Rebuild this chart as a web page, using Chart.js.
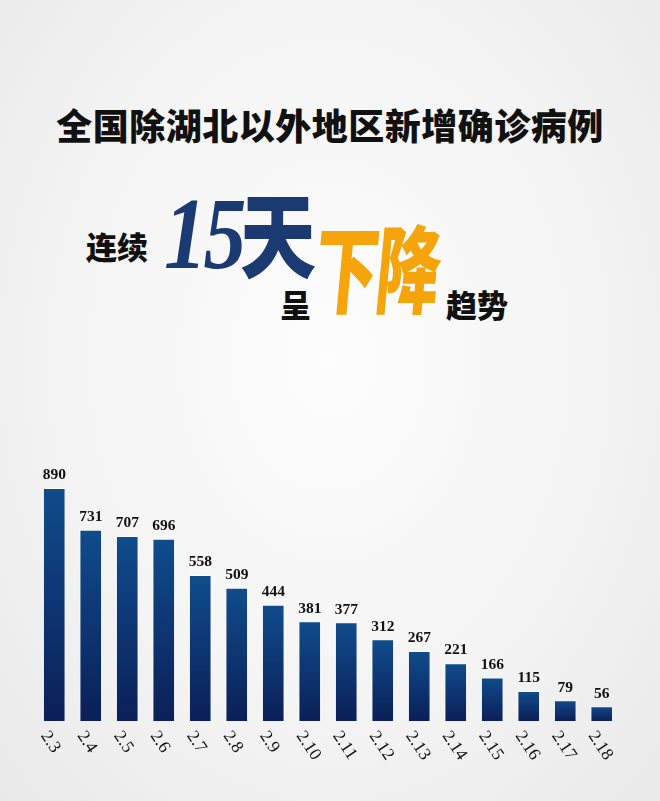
<!DOCTYPE html>
<html>
<head>
<meta charset="utf-8">
<script src="https://cdn.jsdelivr.net/npm/chart.js@4/dist/chart.umd.min.js"></script>
<style>
  html, body { margin: 0; padding: 0; }
  body {
    width: 660px; height: 801px; position: relative; overflow: hidden;
    background: radial-gradient(ellipse at 50% 45%, #fdfdfd 0%, #f4f4f4 55%, #e9e9e9 100%);
    font-family: "Noto Sans CJK SC", sans-serif;
  }
  .t { position: absolute; white-space: nowrap; line-height: 1; }
  #title { left: 0; width: 660px; text-align: center; top: 106px; font-size: 36px; font-weight: 900; color: #111; letter-spacing: 0.5px; }
  #lianxu { left: 86px; top: 230px; font-size: 31px; font-weight: 900; color: #111; }
  #num { left: 164px; top: 183px; font-family: "Liberation Serif", serif; font-style: italic; font-weight: bold; font-size: 102px; color: #1b3a72; letter-spacing: -4px; transform: scaleX(0.84); transform-origin: 0 0; }
  #tian { left: 240px; top: 184px; font-size: 76px; font-weight: 900; color: #1b3a72; transform: scaleY(1.22); transform-origin: 0 0; }
  #cheng { left: 280px; top: 288px; font-size: 31px; font-weight: 900; color: #111; }
  #xiajiang { left: 320px; top: 216px; font-size: 64px; font-weight: 900; color: #f5a40c; transform: scaleY(1.5) skewX(-8deg); transform-origin: 0 0; letter-spacing: -2px; }
  #qushi { left: 446px; top: 288px; font-size: 31px; font-weight: 900; color: #111; }
  #wrap { position: absolute; left: 0; top: 440px; width: 660px; height: 361px; }
</style>
</head>
<body>
<div class="t" id="title">全国除湖北以外地区新增确诊病例</div>
<div class="t" id="lianxu">连续</div>
<div class="t" id="num">15</div>
<div class="t" id="tian">天</div>
<div class="t" id="cheng">呈</div>
<div class="t" id="xiajiang">下降</div>
<div class="t" id="qushi">趋势</div>
<div id="wrap"><canvas id="c"></canvas></div>
<script>
const dates = ['2.3', '2.4', '2.5', '2.6', '2.7', '2.8', '2.9', '2.10', '2.11', '2.12', '2.13', '2.14', '2.15', '2.16', '2.17', '2.18'];
const newCases = [890, 731, 707, 696, 558, 509, 444, 381, 377, 312, 267, 221, 166, 115, 79, 56];

const labelPlugin = {
  id: 'labels',
  afterDatasetsDraw(chart) {
    const ctx = chart.ctx;
    const meta = chart.getDatasetMeta(0);
    const xs = chart.scales.x;
    const bottom = chart.chartArea.bottom;
    ctx.save();
    ctx.fillStyle = '#111';
    ctx.font = 'bold 15.5px "Liberation Serif", serif';
    ctx.textAlign = 'center';
    ctx.textBaseline = 'bottom';
    meta.data.forEach((bar, i) => {
      ctx.fillText(String(newCases[i]), bar.x, bar.y - 5);
    });
    ctx.font = '17.5px "Liberation Serif", serif';
    ctx.textAlign = 'left';
    ctx.textBaseline = 'middle';
    dates.forEach((d, i) => {
      const x = xs.getPixelForValue(i);
      ctx.save();
      ctx.translate(x - 10, bottom + 12);
      ctx.rotate(56 * Math.PI / 180);
      ctx.fillText(d, 0, 0);
      ctx.restore();
    });
    ctx.restore();
  }
};

new Chart(document.getElementById('c'), {
  type: 'bar',
  data: {
    labels: dates,
    datasets: [{
      data: newCases,
      backgroundColor(context) {
        const chart = context.chart;
        const area = chart.chartArea;
        if (!area || context.raw === undefined) return '#0f3a78';
        const top = chart.scales.y.getPixelForValue(context.raw);
        const g = chart.ctx.createLinearGradient(0, top, 0, area.bottom);
        g.addColorStop(0, '#104c8c');
        g.addColorStop(1, '#0b1f58');
        return g;
      },
      borderColor: 'rgba(255,255,255,0.6)',
      borderWidth: 1,
      barPercentage: 0.62,
      categoryPercentage: 1
    }]
  },
  options: {
    responsive: true,
    maintainAspectRatio: false,
    animation: false,
    layout: { padding: { left: 36, right: 40, top: 48, bottom: 80 } },
    plugins: { legend: { display: false }, tooltip: { enabled: false } },
    scales: {
      x: { display: false },
      y: { display: false, min: 0, max: 890 }
    }
  },
  plugins: [labelPlugin]
});
</script>
</body>
</html>
